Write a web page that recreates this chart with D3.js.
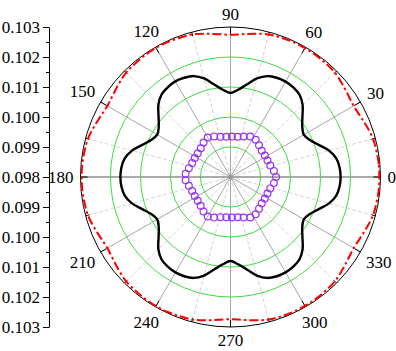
<!DOCTYPE html>
<html>
<head>
<meta charset="utf-8">
<script src="https://cdn.jsdelivr.net/npm/d3@7"></script>
<style>
  body { margin: 0; background: #fff; }
  svg text { font-family: "Liberation Serif", "Times New Roman", serif; font-size: 17px; fill: #000; }
</style>
</head>
<body>
<svg id="chart" width="396" height="351"></svg>
<script>
// radial ticks (value at centre is 0.098, outer ring 0.103)
const radialTicks = [0.098, 0.099, 0.100, 0.101, 0.102, 0.103]
const radialMinor = [0.0985, 0.0995, 0.1005, 0.1015, 0.1025]
const angleLabels = [0, 30, 60, 90, 120, 150, 180, 210, 240, 270, 300, 330]
const angleMinor = [15, 45, 75, 105, 135, 165, 195, 225, 255, 285, 315, 345]

// black solid curve and red dash-dot curve, sampled every 5 degrees
const curveAngles = [0, 5, 10, 15, 20, 25, 30, 35, 40, 45, 50, 55,
  60, 65, 70, 75, 80, 85, 90, 95, 100, 105, 110, 115,
  120, 125, 130, 135, 140, 145, 150, 155, 160, 165, 170, 175,
  180, 185, 190, 195, 200, 205, 210, 215, 220, 225, 230, 235,
  240, 245, 250, 255, 260, 265, 270, 275, 280, 285, 290, 295,
  300, 305, 310, 315, 320, 325, 330, 335, 340, 345, 350, 355]
const blackValues = [
  0.10167, 0.10165, 0.10158, 0.10140, 0.10113, 0.10092, 0.10082, 0.10092, 0.10113, 0.10140, 0.10158, 0.10165,
  0.10167, 0.10165, 0.10158, 0.10140, 0.10113, 0.10092, 0.10080, 0.10092, 0.10113, 0.10140, 0.10158, 0.10165,
  0.10168, 0.10165, 0.10158, 0.10140, 0.10113, 0.10092, 0.10082, 0.10092, 0.10113, 0.10140, 0.10158, 0.10165,
  0.10167, 0.10165, 0.10158, 0.10140, 0.10113, 0.10092, 0.10082, 0.10092, 0.10113, 0.10140, 0.10158, 0.10165,
  0.10167, 0.10165, 0.10158, 0.10140, 0.10113, 0.10092, 0.10080, 0.10092, 0.10113, 0.10140, 0.10158, 0.10165,
  0.10167, 0.10165, 0.10158, 0.10140, 0.10113, 0.10092, 0.10082, 0.10092, 0.10113, 0.10140, 0.10158, 0.10165]
const redValues = [
  0.10296, 0.10296, 0.10294, 0.10292, 0.10285, 0.10278, 0.10274, 0.10278, 0.10285, 0.10292, 0.10294, 0.10296,
  0.10296, 0.10296, 0.10294, 0.10292, 0.10285, 0.10278, 0.10274, 0.10278, 0.10285, 0.10292, 0.10294, 0.10296,
  0.10297, 0.10296, 0.10294, 0.10292, 0.10285, 0.10278, 0.10274, 0.10278, 0.10285, 0.10292, 0.10294, 0.10296,
  0.10296, 0.10296, 0.10294, 0.10292, 0.10285, 0.10278, 0.10274, 0.10278, 0.10285, 0.10292, 0.10294, 0.10296,
  0.10297, 0.10296, 0.10294, 0.10292, 0.10285, 0.10278, 0.10274, 0.10278, 0.10285, 0.10292, 0.10294, 0.10296,
  0.10296, 0.10296, 0.10294, 0.10292, 0.10285, 0.10278, 0.10274, 0.10278, 0.10285, 0.10292, 0.10294, 0.10296]

// purple open circles, every 8 degrees
const markerAngles = [0, 8, 16, 24, 32, 40, 48, 56, 64, 72, 80, 88, 96, 104, 112,
  120, 128, 136, 144, 152, 160, 168, 176, 184, 192, 200, 208, 216, 224, 232,
  240, 248, 256, 264, 272, 280, 288, 296, 304, 312, 320, 328, 336, 344, 352]
const markerValues = [
  0.09952, 0.09946, 0.09938, 0.09935, 0.09935, 0.09936, 0.09942, 0.09950, 0.09950, 0.09942, 0.09936, 0.09935, 0.09935, 0.09938, 0.09946,
  0.09952, 0.09946, 0.09938, 0.09935, 0.09935, 0.09936, 0.09942, 0.09950, 0.09950, 0.09942, 0.09936, 0.09935, 0.09935, 0.09938, 0.09946,
  0.09952, 0.09946, 0.09938, 0.09935, 0.09935, 0.09936, 0.09942, 0.09950, 0.09950, 0.09942, 0.09936, 0.09935, 0.09935, 0.09938, 0.09946]

const cx = 230.5
const cy = 177
const R = 150

const svg = d3.select('#chart')
const r = d3.scaleLinear().domain([0.098, 0.103]).range([0, R])
const rad = d => d * Math.PI / 180
// polar angle (ccw from east) -> lineRadial angle (cw from north)
const toRadial = d => rad(90 - d)

const g = svg.append('g').attr('transform', 'translate(' + cx + ',' + cy + ')')

// spokes
g.selectAll('.spoke-minor')
  .data(angleMinor)
  .join('line')
  .attr('x1', 0).attr('y1', 0)
  .attr('x2', d => R * Math.cos(rad(d)))
  .attr('y2', d => -R * Math.sin(rad(d)))
  .attr('stroke', '#d4d4d4')
  .attr('stroke-width', 1)
  .attr('stroke-dasharray', '4,2')

g.selectAll('.spoke')
  .data(angleLabels)
  .join('line')
  .attr('x1', 0).attr('y1', 0)
  .attr('x2', d => R * Math.cos(rad(d)))
  .attr('y2', d => -R * Math.sin(rad(d)))
  .attr('stroke', d => (d % 180 === 0) ? '#aaaaaa' : '#a6a6a6')
  .attr('stroke-width', d => (d % 180 === 0) ? 2 : 1)

// green rings
g.selectAll('.ring')
  .data(radialTicks.slice(1, -1))
  .join('circle')
  .attr('r', d => r(d))
  .attr('fill', 'none')
  .attr('stroke', '#3ddc3d')
  .attr('stroke-width', 1)

g.append('circle').attr('r', 2.2).attr('fill', '#999')

// outer ring and its ticks
g.append('circle')
  .attr('r', r(0.103))
  .attr('fill', 'none')
  .attr('stroke', '#000')
  .attr('stroke-width', 1)

g.selectAll('.otick')
  .data(angleLabels.concat(angleMinor))
  .join('line')
  .attr('x1', d => (R - (d % 30 === 0 ? 7 : 4)) * Math.cos(rad(d)))
  .attr('y1', d => -(R - (d % 30 === 0 ? 7 : 4)) * Math.sin(rad(d)))
  .attr('x2', d => R * Math.cos(rad(d)))
  .attr('y2', d => -R * Math.sin(rad(d)))
  .attr('stroke', '#000')
  .attr('stroke-width', 1)

// angle labels
const labelGap = 157
g.selectAll('.alabel')
  .data(angleLabels)
  .join('text')
  .attr('text-anchor', 'middle')
  .attr('dominant-baseline', 'central')
  .text(d => d)
  .each(function (d) {
    const w = this.getComputedTextLength()
    const h = 12
    const c = Math.cos(rad(d))
    const s = Math.sin(rad(d))
    const rr = labelGap + 0.5 * (Math.abs(c) * w + Math.abs(s) * h)
    d3.select(this).attr('x', rr * c).attr('y', -rr * s)
  })

// series
const line = d3.lineRadial()
  .angle(d => toRadial(d[0]))
  .radius(d => r(d[1]))
  .curve(d3.curveCatmullRomClosed)

g.append('path')
  .datum(d3.zip(curveAngles, redValues))
  .attr('d', line)
  .attr('fill', 'none')
  .attr('stroke', '#ff0000')
  .attr('stroke-width', 2)
  .attr('stroke-dasharray', '9,3,2.5,3')

g.append('path')
  .datum(d3.zip(curveAngles, blackValues))
  .attr('d', line)
  .attr('fill', 'none')
  .attr('stroke', '#000')
  .attr('stroke-width', 2.4)

g.selectAll('.marker')
  .data(d3.zip(markerAngles, markerValues))
  .join('circle')
  .attr('cx', d => r(d[1]) * Math.cos(rad(d[0])))
  .attr('cy', d => -r(d[1]) * Math.sin(rad(d[0])))
  .attr('r', 3.4)
  .attr('fill', 'none')
  .attr('stroke', '#9933ee')
  .attr('stroke-width', 1.2)

// left radial axis, mirrored about the centre
const axisX = 49
const yTop = d3.scaleLinear().domain([0.103, 0.098]).range([cy - R, cy])
const yBot = d3.scaleLinear().domain([0.098, 0.103]).range([cy, cy + R])
const fmt = d3.format('.3f')

;[yTop, yBot].forEach(function (sc, i) {
  svg.append('g')
    .attr('transform', 'translate(' + axisX + ',0)')
    .call(d3.axisLeft(sc).tickValues(radialMinor).tickSize(3).tickSizeOuter(0).tickFormat(''))
    .call(a => a.select('.domain').remove())
    .selectAll('line').attr('stroke', '#000')

  // the centre value 0.098 is labelled once, by the upper half
  const ticks = i === 0 ? radialTicks : radialTicks.slice(1)
  const ax = svg.append('g')
    .attr('transform', 'translate(' + axisX + ',0)')
    .call(d3.axisLeft(sc).tickValues(ticks).tickSize(6).tickSizeOuter(0).tickPadding(3).tickFormat(fmt))
  ax.select('.domain').attr('stroke', '#000')
  ax.selectAll('text')
    .style('font-family', '"Liberation Serif", "Times New Roman", serif')
    .style('font-size', '17px')
    .attr('fill', '#000')
})
</script>
</body>
</html>
